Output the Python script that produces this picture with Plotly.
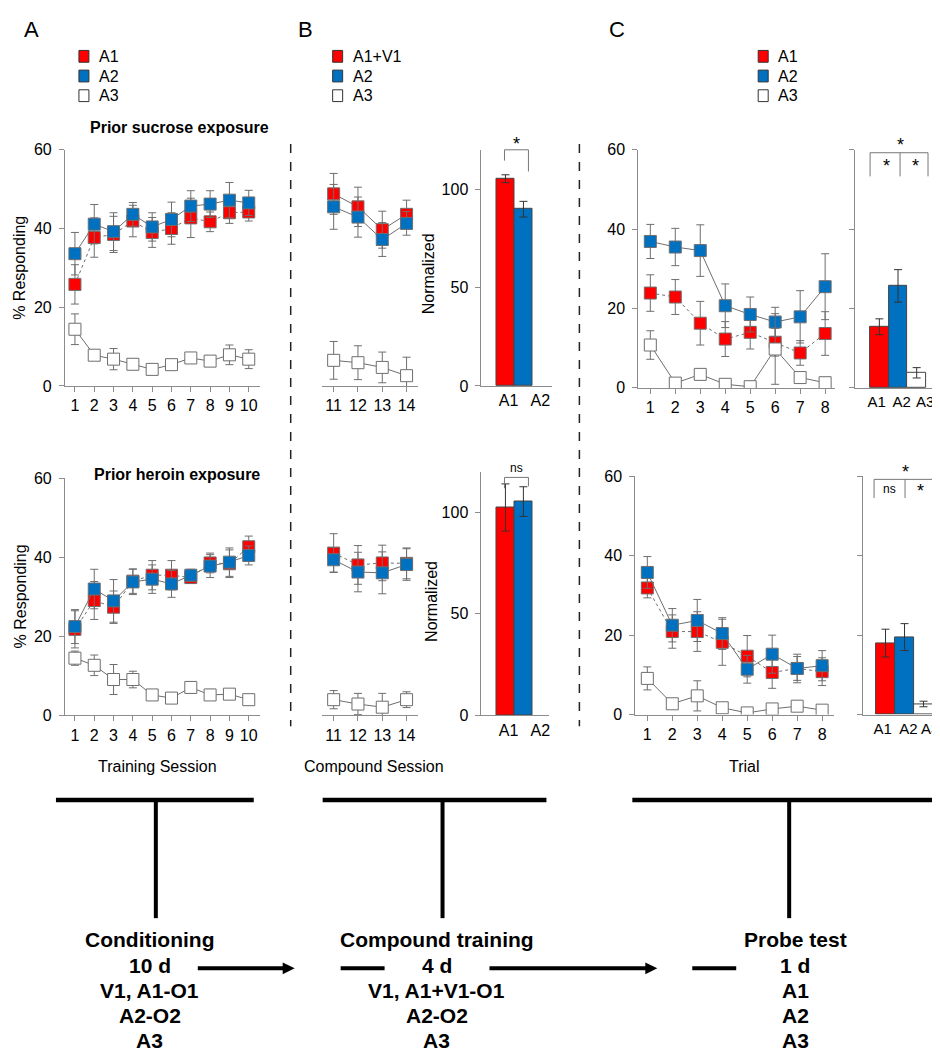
import plotly.graph_objects as go

W, H = 940, 1050
def fx(p): return p / W
def fy(p): return 1 - p / H

# ---------------- data ----------------
train_sessions = list(range(1, 11))
compound_sessions = [11, 12, 13, 14]
trials = list(range(1, 9))

suc_train_A1 = [25.8, 37.7, 38.5, 41.9, 39.0, 40.0, 42.7, 41.7, 44.0, 44.2]
suc_train_A1_err = [5.0, 5.0, 4.6, 4.0, 3.8, 4.0, 5.0, 2.5, 2.7, 2.3]
suc_train_A2 = [33.6, 41.1, 39.2, 43.6, 40.4, 42.3, 45.7, 46.2, 47.2, 46.5]
suc_train_A2_err = [5.4, 5.0, 4.8, 3.0, 3.6, 4.4, 3.9, 3.4, 4.5, 3.2]
suc_train_A3 = [14.4, 7.8, 6.8, 5.5, 4.2, 5.4, 7.1, 6.3, 7.9, 6.8]
suc_train_A3_err = [3.9, 1.0, 2.7, 1.2, 1.0, 1.0, 1.0, 1.0, 2.5, 2.4]

her_train_A1 = [21.8, 29.1, 27.4, 34.0, 35.5, 35.5, 34.9, 38.6, 38.4, 42.7]
her_train_A1_err = [4.7, 4.8, 4.1, 3.1, 3.7, 3.7, 1.5, 2.5, 3.5, 2.7]
her_train_A2 = [22.5, 32.0, 29.0, 33.8, 34.5, 33.3, 35.5, 37.8, 38.8, 40.5]
her_train_A2_err = [4.3, 5.0, 5.4, 3.2, 3.6, 3.4, 1.5, 2.9, 3.6, 2.4]
her_train_A3 = [14.5, 12.7, 9.1, 9.1, 5.2, 4.4, 7.1, 5.2, 5.4, 4.0]
her_train_A3_err = [1.8, 2.6, 3.8, 2.1, 0.5, 0.5, 1.4, 1.4, 0.5, 0.5]

suc_comp_A1V1 = [48.8, 45.5, 39.7, 43.6]
suc_comp_A1V1_err = [5.2, 5.0, 4.7, 3.6]
suc_comp_A2 = [45.5, 42.9, 37.2, 41.3]
suc_comp_A2_err = [5.7, 5.1, 4.3, 3.0]
suc_comp_A3 = [6.5, 5.9, 4.7, 2.6]
suc_comp_A3_err = [4.8, 4.3, 3.9, 4.7]

her_comp_A1V1 = [41.1, 38.1, 38.6, 38.5]
her_comp_A1V1_err = [4.9, 4.9, 4.5, 3.9]
her_comp_A2 = [39.4, 36.3, 36.1, 38.2]
her_comp_A2_err = [3.1, 5.0, 5.3, 4.0]
her_comp_A3 = [4.0, 2.9, 2.1, 4.0]
her_comp_A3_err = [2.3, 2.7, 3.5, 2.0]

norm_labels = ["A1", "A2"]
suc_norm = [105.3, 89.8]
suc_norm_err = [2.0, 4.0]
her_norm = [102.3, 105.2]
her_norm_err = [11.6, 7.3]

suc_probe_A1 = [23.9, 22.9, 16.3, 12.3, 14.0, 11.5, 8.8, 13.7]
suc_probe_A1_err = [4.6, 4.4, 5.5, 4.4, 4.2, 3.5, 3.1, 5.5]
suc_probe_A2 = [36.9, 35.5, 34.6, 20.7, 18.5, 16.6, 17.9, 25.5]
suc_probe_A2_err = [4.3, 4.7, 6.5, 5.5, 4.4, 3.7, 6.6, 8.3]
suc_probe_A3 = [10.8, 1.2, 3.4, 0.9, 0.3, 9.8, 2.6, 1.3]
suc_probe_A3_err = [3.6, 0.5, 1.0, 0.5, 0.3, 8.9, 1.3, 0.5]

her_probe_A1 = [31.9, 20.9, 20.9, 18.2, 14.7, 10.6, 11.6, 10.8]
her_probe_A1_err = [2.5, 4.2, 5.0, 5.8, 5.2, 4.0, 3.0, 3.5]
her_probe_A2 = [35.8, 22.5, 23.7, 20.4, 11.4, 15.2, 11.6, 12.3]
her_probe_A2_err = [4.0, 4.2, 5.3, 4.0, 3.5, 4.8, 3.6, 3.8]
her_probe_A3 = [9.1, 2.7, 4.7, 1.7, 0.4, 1.4, 2.1, 1.1]
her_probe_A3_err = [2.9, 0.5, 3.8, 0.5, 0.3, 0.5, 1.0, 0.5]

probe_labels = ["A1", "A2", "A3"]
suc_probe_mean = [15.4, 25.7, 3.8]
suc_probe_mean_err = [2.0, 4.1, 1.3]
her_probe_mean = [18.0, 19.5, 2.65]
her_probe_mean_err = [3.5, 3.4, 0.7]

# ---------------- style ----------------
RED = "#FF0000"
BLUE = "#0070C0"
WHITE = "#FFFFFF"
AX = "#8C8C8C"
FONT = "Arial, Liberation Sans, sans-serif"

fig = go.Figure()

def line_traces(xax, yax, x, series):
    for y, err, color, dash in series:
        fig.add_trace(go.Scatter(
            x=x, y=y, xaxis=xax, yaxis=yax, mode="lines+markers",
            line=dict(color="#6E6E6E", width=1, dash=dash),
            marker=dict(symbol="square", size=12, color=color,
                        line=dict(color="#6E6E6E", width=1)),
            error_y=dict(type="data", array=err, color="#6E6E6E", thickness=1, width=4),
            showlegend=False, hoverinfo="skip"))

line_traces("x", "y", train_sessions, [
    (suc_train_A1, suc_train_A1_err, RED, "dot"),
    (suc_train_A2, suc_train_A2_err, BLUE, "solid"),
    (suc_train_A3, suc_train_A3_err, WHITE, "solid")])
line_traces("x2", "y2", train_sessions, [
    (her_train_A1, her_train_A1_err, RED, "dot"),
    (her_train_A2, her_train_A2_err, BLUE, "solid"),
    (her_train_A3, her_train_A3_err, WHITE, "solid")])
line_traces("x3", "y3", compound_sessions, [
    (suc_comp_A1V1, suc_comp_A1V1_err, RED, "solid"),
    (suc_comp_A2, suc_comp_A2_err, BLUE, "solid"),
    (suc_comp_A3, suc_comp_A3_err, WHITE, "solid")])
line_traces("x4", "y4", compound_sessions, [
    (her_comp_A1V1, her_comp_A1V1_err, RED, "dot"),
    (her_comp_A2, her_comp_A2_err, BLUE, "solid"),
    (her_comp_A3, her_comp_A3_err, WHITE, "solid")])
line_traces("x7", "y7", trials, [
    (suc_probe_A1, suc_probe_A1_err, RED, "dot"),
    (suc_probe_A2, suc_probe_A2_err, BLUE, "solid"),
    (suc_probe_A3, suc_probe_A3_err, WHITE, "solid")])
line_traces("x8", "y8", trials, [
    (her_probe_A1, her_probe_A1_err, RED, "dot"),
    (her_probe_A2, her_probe_A2_err, BLUE, "solid"),
    (her_probe_A3, her_probe_A3_err, WHITE, "solid")])

def bar_trace(xax, yax, vals, errs, colors):
    fig.add_trace(go.Bar(
        x=list(range(len(vals))), y=vals, xaxis=xax, yaxis=yax, width=1,
        marker=dict(color=colors, line=dict(color="#444444", width=1)),
        error_y=dict(type="data", array=errs, color="#333333", thickness=1, width=4),
        showlegend=False, hoverinfo="skip"))

bar_trace("x5", "y5", suc_norm, suc_norm_err, [RED, BLUE])
bar_trace("x6", "y6", her_norm, her_norm_err, [RED, BLUE])
bar_trace("x9", "y9", suc_probe_mean, suc_probe_mean_err, [RED, BLUE, WHITE])
bar_trace("x10", "y10", her_probe_mean, her_probe_mean_err, [RED, BLUE, WHITE])

def xaxis(p0, p1, rng, tickvals=None, ticktext=None, ticks="outside", anchor=None, size=16):
    d = dict(domain=[fx(p0), fx(p1)], range=rng, showline=True, linecolor=AX, linewidth=1,
             ticks=ticks, ticklen=5, tickcolor=AX, showgrid=False, zeroline=False,
             tickfont=dict(family=FONT, size=size, color="black"), anchor=anchor, fixedrange=True)
    if tickvals is not None:
        d["tickmode"] = "array"
        d["tickvals"] = tickvals
        if ticktext is not None:
            d["ticktext"] = ticktext
    return d

def yaxis(p_bottom, p_top, rng, tickvals, anchor, labels=True, visible=True):
    return dict(domain=[fy(p_bottom), fy(p_top)], range=rng, showline=True, linecolor=AX,
                linewidth=1, ticks="outside", ticklen=5, tickcolor=AX, showgrid=False,
                zeroline=False, tickmode="array", tickvals=tickvals, showticklabels=labels,
                tickfont=dict(family=FONT, size=16, color="black"), anchor=anchor,
                visible=visible, fixedrange=True, ticklabelstandoff=4)

layout = dict(
    width=W, height=H, margin=dict(l=0, r=0, t=0, b=0), autosize=False,
    plot_bgcolor="white", paper_bgcolor="white", showlegend=False, bargap=0,
    font=dict(family=FONT, size=16, color="black"),
)
# A
layout["xaxis"] = xaxis(57, 252, [1 - 10 / 19.33, 10 + 11 / 19.33], train_sessions, anchor="y")
layout["yaxis"] = yaxis(376, 136, [0, 60], [0, 20, 40, 60], "x")
layout["xaxis2"] = xaxis(57, 252, [1 - 10 / 19.33, 10 + 11 / 19.33], train_sessions, anchor="y2")
layout["yaxis2"] = yaxis(711, 470, [0, 60], [0, 20, 40, 60], "x2")
# B lines
layout["xaxis3"] = xaxis(314, 410, [11 - 12 / 24.33, 14 + 11 / 24.33], compound_sessions, anchor="y3")
layout["yaxis3"] = yaxis(376, 136, [0, 60], [0, 20, 40, 60], "x3", visible=False)
layout["xaxis4"] = xaxis(314, 410, [11 - 12 / 24.33, 14 + 11 / 24.33], compound_sessions, anchor="y4")
layout["yaxis4"] = yaxis(711, 470, [0, 60], [0, 20, 40, 60], "x4", visible=False)
# B bars
layout["xaxis5"] = xaxis(474, 545, [-1.333, 2.61], [0.17, 1.94], norm_labels, ticks="", anchor="y5")
layout["yaxis5"] = yaxis(376, 136, [0, 120], [0, 50, 100], "x5")
layout["xaxis6"] = xaxis(474, 542, [-1.333, 2.45], [0.17, 1.94], norm_labels, ticks="", anchor="y6")
layout["yaxis6"] = yaxis(711, 463, [0, 120], [0, 50, 100], "x6")
# C lines
layout["xaxis7"] = xaxis(631, 828, [1 - 12 / 25, 8 + 10 / 25], trials, anchor="y7")
layout["yaxis7"] = yaxis(378, 136, [0, 60], [0, 20, 40, 60], "x7")
layout["xaxis8"] = xaxis(628, 827, [1 - 12 / 25, 8 + 12 / 25], trials, anchor="y8")
layout["yaxis8"] = yaxis(710, 468, [0, 60], [0, 20, 40, 60], "x8")
# C bars
layout["xaxis9"] = xaxis(848, 933, [-1.30, 3.25], [-0.15, 1.2, 2.45], probe_labels, ticks="", anchor="y9", size=15)
layout["yaxis9"] = yaxis(378, 136, [0, 60], [0, 20, 40, 60], "x9", labels=False)
layout["xaxis10"] = xaxis(856, 938, [-1.18, 3.13], [-0.15, 1.2, 2.35], probe_labels, ticks="", anchor="y10", size=15)
layout["yaxis10"] = yaxis(710, 468, [0, 60], [0, 20, 40, 60], "x10", labels=False)

fig.update_layout(**layout)

shapes = []
annotations = []

def text(x, y, s, size=16, bold=False, angle=0, xanchor="center", color="black"):
    annotations.append(dict(
        x=fx(x), y=fy(y), xref="paper", yref="paper", text=("<b>%s</b>" % s) if bold else s,
        showarrow=False, xanchor=xanchor, yanchor="middle", textangle=angle,
        font=dict(family=FONT, size=size, color=color)))

def seg(x0, y0, x1, y1, width=1, color="#555555", dash="solid"):
    shapes.append(dict(type="line", xref="paper", yref="paper", x0=fx(x0), y0=fy(y0),
                       x1=fx(x1), y1=fy(y1), line=dict(color=color, width=width, dash=dash)))

# panel letters
text(24, 14, "A", size=22)
text(298, 14, "B", size=22)
text(610, 14, "C", size=22)

# legends
def legend(xc, labels, colors):
    for i, (lab, col) in enumerate(zip(labels, colors)):
        yc = 41 + 20 * i
        shapes.append(dict(type="rect", xref="paper", yref="paper",
                           x0=fx(xc - 5), x1=fx(xc + 5), y0=fy(yc + 6), y1=fy(yc - 6),
                           fillcolor=col, line=dict(color="#333333", width=1)))
        text(xc + 13, yc, lab, size=16, xanchor="left")

legend(76, ["A1", "A2", "A3"], [RED, BLUE, WHITE])
legend(330, ["A1+V1", "A2", "A3"], [RED, BLUE, WHITE])
legend(756, ["A1", "A2", "A3"], [RED, BLUE, WHITE])

# subtitles
text(172, 113, "Prior sucrose exposure", size=16, bold=True)
text(169, 466, "Prior heroin exposure", size=16, bold=True)

# axis titles
text(12, 256, "% Responding", size=16, angle=-90)
text(12, 590, "% Responding", size=16, angle=-90)
text(421, 262, "Normalized", size=16, angle=-90)
text(424, 595, "Normalized", size=16, angle=-90)
text(150, 763, "Training Session", size=16)
text(366, 763, "Compound Session", size=16)
text(737, 763, "Trial", size=16)

# dashed separators
seg(283, 130, 283, 722, width=1.5, color="#222222", dash="dash")
seg(572, 130, 572, 722, width=1.5, color="#222222", dash="dash")

# significance brackets
BR = "#777777"
seg(497, 136, 521, 136, color=BR); seg(497, 136, 497, 147, color=BR); seg(521, 136, 521, 158, color=BR)
text(509, 130, "*", size=18)
seg(497, 469, 521, 469, color=BR); seg(497, 469, 497, 480, color=BR); seg(521, 469, 521, 478, color=BR)
text(509, 459, "ns", size=12)
seg(863, 139, 921, 139, color=BR)
for xv in (863, 893, 921):
    seg(xv, 139, xv, 163, color=BR)
text(893, 131, "*", size=18)
text(879, 152, "*", size=18)
text(908, 152, "*", size=18)
seg(867, 471, 927, 471, color=BR)
for xv in (867, 898, 927):
    seg(xv, 471, xv, 490, color=BR)
text(898, 463, "*", size=18)
text(882, 481, "ns", size=12)
text(913, 483, "*", size=18)

# timeline diagram
for (x0, x1, xv) in [(48, 246, 148), (315, 539, 435), (625, 935, 782)]:
    seg(x0, 797, x1, 797, width=4.5, color="black")
    seg(xv, 797, xv, 917, width=4, color="black")

def arrow(x0, x1, y):
    seg(x0, y, x1 - 10, y, width=4, color="black")
    shapes.append(dict(type="path", xref="paper", yref="paper",
                       path="M %f %f L %f %f L %f %f Z" % (fx(x1 - 12), fy(y - 6), fx(x1), fy(y), fx(x1 - 12), fy(y + 6)),
                       fillcolor="black", line=dict(color="black", width=0)))

arrow(190, 287, 968)
seg(333, 968, 377, 968, width=4, color="black")
arrow(482, 650, 968)
seg(685, 968, 729, 968, width=4, color="black")

for xc, lines in [(142, ["Conditioning", "10 d", "V1, A1-O1", "A2-O2", "A3"]),
                  (429, ["Compound training", "4 d", "V1, A1+V1-O1", "A2-O2", "A3"]),
                  (788, ["Probe test", "1 d", "A1", "A2", "A3"])]:
    for i, s in enumerate(lines):
        text(xc, 939 + 25.7 * i, s, size=21, bold=True)

fig.update_layout(shapes=shapes, annotations=annotations)
fig.write_html("out.html")
